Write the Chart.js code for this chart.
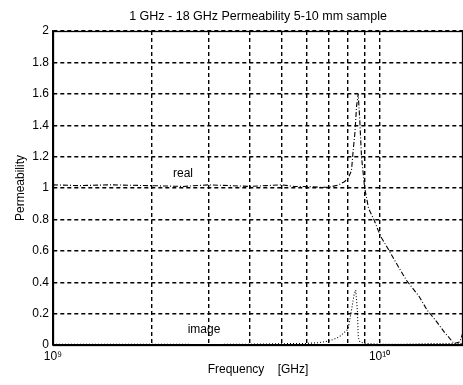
<!DOCTYPE html>
<html>
<head>
<meta charset="utf-8">
<script src="https://cdn.jsdelivr.net/npm/chart.js@4/dist/chart.umd.min.js"></script>
<style>
  html, body { margin: 0; padding: 0; background: #fff; }
  #wrap { width: 463px; height: 385px; }
</style>
</head>
<body>
<div id="wrap"><canvas id="chart" width="463" height="385"></canvas></div>
<script>
// frequency in GHz
const realFreq = [1.0, 1.2, 1.5, 2.0, 2.5, 3.0, 3.5, 4.0, 4.5, 5.0, 5.5, 6.0, 6.5, 7.0, 7.5, 7.8, 8.0, 8.2, 8.3, 8.4, 8.5, 8.6, 8.7, 8.8, 9.0, 9.25, 9.6, 9.9, 10.15, 10.7, 11.4, 12.1, 13.2, 14.0, 14.8, 15.8, 16.9, 17.6, 18.0];
const realVal  = [1.02, 1.015, 1.02, 1.015, 1.01, 1.02, 1.015, 1.01, 1.015, 1.02, 1.01, 1.01, 1.005, 1.005, 1.02, 1.04, 1.06, 1.11, 1.24, 1.35, 1.52, 1.6, 1.42, 1.2, 1.0, 0.87, 0.8, 0.73, 0.68, 0.6, 0.5, 0.41, 0.31, 0.22, 0.16, 0.08, 0.01, 0.02, 0.08];

const imagFreq = [1.0, 2.0, 3.0, 4.0, 5.0, 6.0, 6.5, 7.0, 7.5, 8.0, 8.2, 8.35, 8.45, 8.55, 8.6, 8.7, 9.0, 10.0, 12.0, 15.0, 18.0];
const imagVal  = [0.005, 0.005, 0.003, 0.005, 0.008, 0.01, 0.015, 0.025, 0.05, 0.1, 0.22, 0.32, 0.35, 0.22, 0.05, 0.02, 0.01, 0.005, 0.005, 0.01, 0.01];

const xTicks = [1, 2, 3, 4, 5, 6, 7, 8, 9, 10];
const xTickLabels = { 1: '10\u2079', 10: '10\u00b9\u2070' };
const yTicks = [0, 0.2, 0.4, 0.6, 0.8, 1, 1.2, 1.4, 1.6, 1.8, 2];

const chartTitle = '1 GHz - 18 GHz Permeability 5-10 mm sample';

// curve annotations (GHz, value)
const notes = [
    { text: 'real',  f: 2.5, v: 1.09 },
    { text: 'image', f: 2.9, v: 0.1 }
];

const GHZ = 1e9;
const FONT = '"Liberation Sans", Arial, sans-serif';

function toPoints(fs, vs) {
    return fs.map((f, i) => ({ x: f * GHZ, y: vs[i] }));
}

// title centred over the plot box, frame, curve labels
const boxAndNotes = {
    id: 'boxAndNotes',
    afterDraw(chart) {
        const { ctx, chartArea: a, scales } = chart;
        ctx.save();
        ctx.strokeStyle = '#000';
        ctx.lineWidth = 1.3;
        ctx.setLineDash([]);
        ctx.strokeRect(a.left + 0.5, a.top + 0.5, a.right - a.left - 1, a.bottom - a.top);
        ctx.fillStyle = '#000';
        ctx.textAlign = 'center';
        ctx.textBaseline = 'middle';
        ctx.font = '12.5px ' + FONT;
        ctx.fillText(chartTitle, (a.left + a.right) / 2, 17);
        ctx.font = '12px ' + FONT;
        notes.forEach(n => {
            ctx.fillText(n.text, scales.x.getPixelForValue(n.f * GHZ), scales.y.getPixelForValue(n.v));
        });
        ctx.restore();
    }
};

new Chart(document.getElementById('chart'), {
    type: 'line',
    data: {
        datasets: [
            {
                label: 'real',
                data: toPoints(realFreq, realVal),
                borderColor: '#000',
                borderWidth: 1.1,
                borderDash: [5, 2, 1, 2],
                pointRadius: 0,
                tension: 0
            },
            {
                label: 'image',
                data: toPoints(imagFreq, imagVal),
                borderColor: '#000',
                borderWidth: 1.1,
                borderDash: [1, 2],
                pointRadius: 0,
                tension: 0
            }
        ]
    },
    options: {
        responsive: false,
        animation: false,
        layout: { padding: { top: 31, left: 0, right: 0, bottom: 0 } },
        plugins: {
            legend: { display: false },
            tooltip: { enabled: false },
            title: { display: false }
        },
        scales: {
            x: {
                type: 'logarithmic',
                min: 1 * GHZ,
                max: 18 * GHZ,
                afterBuildTicks: s => { s.ticks = xTicks.map(v => ({ value: v * GHZ })); },
                afterFit: s => { s.height = 40; },
                ticks: {
                    autoSkip: false,
                    maxRotation: 0,
                    padding: 4,
                    color: '#000',
                    font: { family: FONT, size: 12 },
                    callback: v => xTickLabels[Math.round(v / GHZ)] || ''
                },
                grid: { color: '#000', lineWidth: 1.4, drawTicks: false },
                border: { display: true, color: '#000', width: 1.3, dash: [4, 3] },
                title: {
                    display: true,
                    text: 'Frequency    [GHz]',
                    color: '#000',
                    font: { family: FONT, size: 12 },
                    padding: { top: 0, bottom: 8 }
                }
            },
            y: {
                min: 0,
                max: 2,
                afterBuildTicks: s => { s.ticks = yTicks.map(v => ({ value: v })); },
                afterFit: s => { s.width = 53; },
                ticks: {
                    padding: 4,
                    color: '#000',
                    font: { family: FONT, size: 12 },
                    callback: v => String(Math.round(v * 10) / 10)
                },
                grid: { color: '#000', lineWidth: 1.4, drawTicks: false },
                border: { display: true, color: '#000', width: 1.3, dash: [4, 3] },
                title: {
                    display: true,
                    text: 'Permeability',
                    color: '#000',
                    font: { family: FONT, size: 12 },
                    padding: { top: 13, bottom: 0 }
                }
            }
        }
    },
    plugins: [boxAndNotes]
});
</script>
</body>
</html>
